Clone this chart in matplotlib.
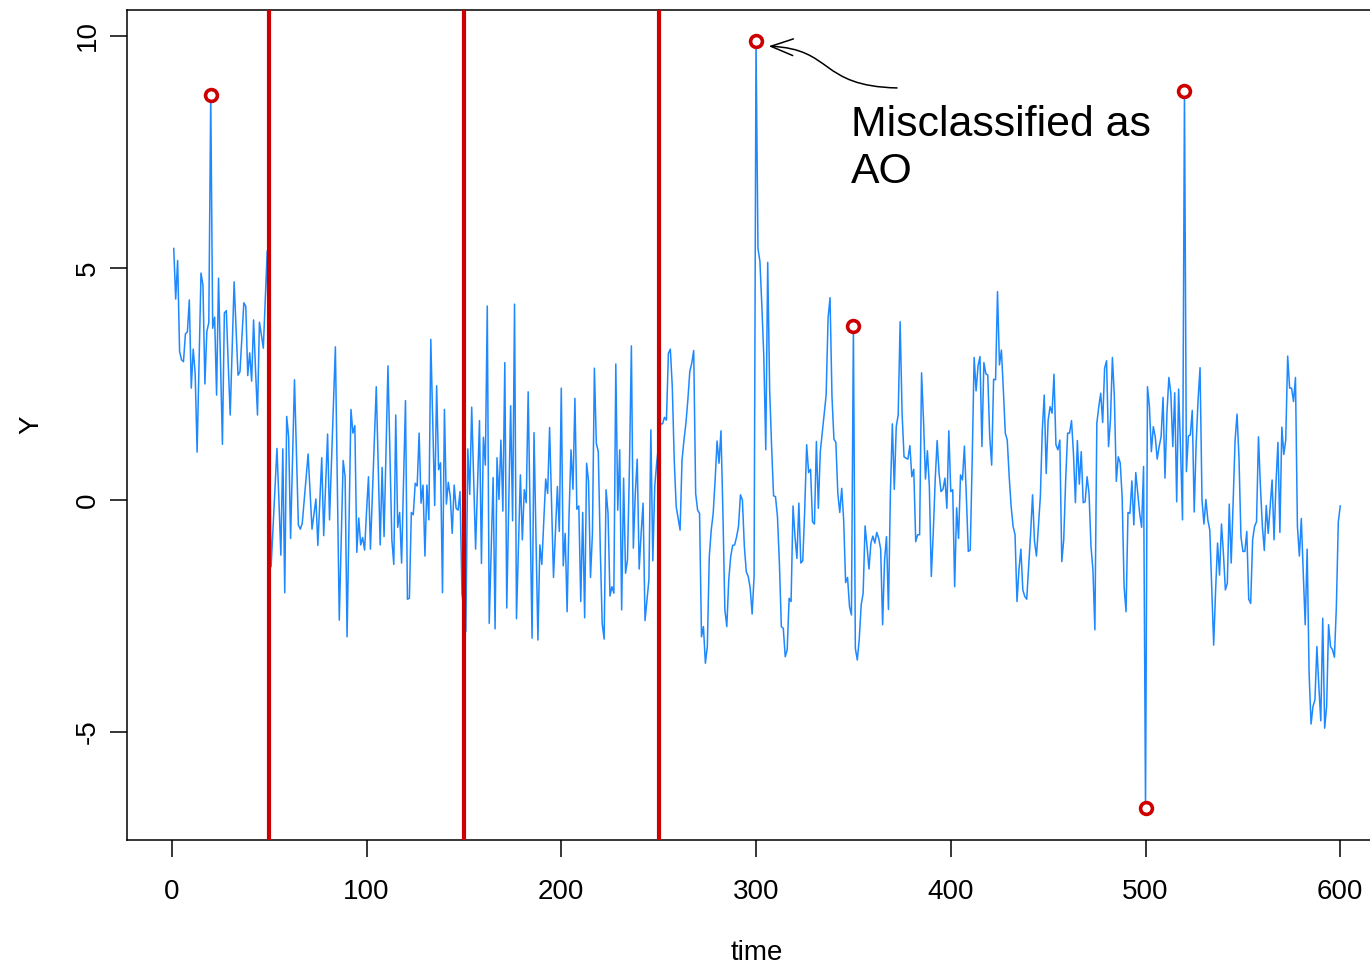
import numpy as np
import matplotlib
matplotlib.use("Agg")
import matplotlib.pyplot as plt
from matplotlib.path import Path
from matplotlib.patches import FancyArrowPatch

plt.rcParams['font.family'] = ['Liberation Sans', 'DejaVu Sans']

# series values, t = 1..600
y_1_50 = [5.42, 4.33, 5.16, 3.2, 3.02, 2.98, 3.58, 3.62, 4.31, 2.41,
          3.25, 2.73, 1.03, 3.0, 4.89, 4.63, 2.5, 3.63, 3.82, 8.73,
          3.7, 3.94, 2.26, 4.78, 3.0, 1.2, 4.03, 4.08, 2.9, 1.83,
          3.3, 4.7, 3.7, 2.69, 2.76, 3.5, 4.25, 4.17, 2.68, 3.17,
          2.56, 3.88, 2.8, 1.83, 3.83, 3.56, 3.27, 4.3, 5.37, 2.0]
y_51_150 = [-1.44, -0.6, 0.25, 1.11, 0.0, -1.19, 1.1, -2.0, 1.8, 1.36,
            -0.83, 0.9, 2.59, 1.0, -0.54, -0.63, -0.5, 0.0, 0.5, 0.99,
            0.2, -0.63, -0.3, 0.02, -0.98, -0.03, 0.91, -0.77, 0.3, 1.42,
            -0.43, 0.81, 2.06, 3.3, 0.36, -2.59, -0.87, 0.85, 0.5, -2.95,
            -0.5, 1.95, 1.44, 1.6, -1.13, -0.39, -0.97, -0.81, -1.08, -0.25,
            0.5, -1.06, 0.1, 1.3, 2.44, 0.7, -0.97, 0.7, -0.79, 1.0,
            2.89, 1.0, -0.86, -1.39, 1.83, -0.59, -0.27, -1.36, 0.4, 2.14,
            -2.14, -2.12, -0.27, -0.32, 0.36, 0.3, 1.44, -0.07, 0.32, -1.21,
            0.32, -0.43, 3.46, 1.65, -0.12, 2.46, 0.65, 0.8, -2.0, 1.95,
            -0.09, 0.38, 0.07, -0.72, 0.32, -0.18, -0.22, 0.18, -2.01, -2.4]
y_151_250 = [-2.84, 1.1, 0.12, 2.0, 0.5, -1.06, 0.3, 1.71, -1.37, 1.35,
             0.75, 4.18, -2.66, -1.1, 0.48, -2.78, 0.91, 0.01, 1.29, -0.24,
             2.96, -2.33, -0.15, 2.03, -0.45, 4.22, -2.56, -1.0, 0.54, -0.86,
             0.22, -0.06, 2.33, -0.3, -2.98, 1.45, -0.8, -3.02, -0.97, -1.39,
             -0.47, 0.45, 0.14, 1.56, -0.06, -1.67, -0.7, 0.29, -0.68, 2.41,
             -1.42, -0.72, -2.41, -0.3, 1.08, 0.23, 2.19, -0.2, -0.13, -2.19,
             -0.27, -2.54, 0.79, 0.4, -1.67, -0.72, 2.84, 1.22, 1.04, -1.0,
             -2.66, -3.0, 0.22, -0.29, -2.07, -1.87, -2.01, 2.93, -0.22, 1.08,
             -2.37, 0.47, -1.58, -1.29, 0.72, 3.32, -1.04, 0.14, 0.88, -1.49,
             -0.72, -0.07, -2.6, -2.16, -1.72, 1.51, -1.31, 0.3, 0.8, 1.2]
y_251_300 = [1.64, 1.64, 1.78, 1.72, 3.16, 3.25, 2.44, 0.86, -0.14, -0.39,
             -0.65, 0.86, 1.29, 1.65, 2.16, 2.77, 2.95, 3.22, 0.14, -0.22,
             -0.29, -2.95, -2.73, -3.52, -3.16, -1.22, -0.65, -0.29, 0.43, 1.27,
             0.79, 1.49, -0.29, -2.37, -2.73, -1.72, -1.22, -0.98, -0.97, -0.8,
             -0.57, 0.11, 0.0, -1.0, -1.55, -1.65, -1.9, -2.46, -1.65, 9.9]
y_301_350 = [5.42, 5.14, 4.17, 3.09, 1.08, 5.12, 2.37, 1.15, 0.09, 0.07,
             -0.36, -1.36, -2.73, -2.77, -3.38, -3.23, -2.12, -2.19, -0.13, -0.79,
             -1.26, -0.07, -1.36, -1.31, -0.22, 1.19, 0.59, 0.66, -0.47, -0.52,
             1.26, -0.18, 1.04, 1.44, 1.83, 2.26, 3.92, 4.36, 2.23, 1.31,
             1.24, 0.14, -0.27, 0.25, -0.43, -1.78, -1.67, -2.3, -2.48, 3.75]
y_351_400 = [-3.2, -3.45, -3.0, -2.26, -2.01, -0.56, -1.0, -1.49, -0.93, -0.78,
             -0.93, -0.7, -0.83, -1.06, -2.69, -1.3, -0.79, -2.36, 0.14, 1.64,
             0.23, 1.58, 1.83, 3.84, 1.87, 0.93, 0.9, 0.88, 1.17, 0.5,
             0.66, -0.9, -0.75, -0.75, 2.74, 1.72, 0.45, 1.06, 0.29, -1.65,
             -0.72, 0.43, 1.28, 0.57, 0.18, 0.23, 0.47, -0.18, 1.49, 0.18]
y_401_450 = [0.22, -1.87, -0.17, -0.83, 0.54, 0.43, 1.16, 0.07, -1.11, -1.08,
             0.86, 3.07, 2.35, 2.89, 3.09, 1.15, 2.96, 2.72, 2.69, 1.36,
             0.75, 2.6, 2.59, 4.49, 2.91, 3.23, 2.37, 1.44, 1.29, 0.5,
             -0.14, -0.57, -0.75, -2.19, -1.51, -1.06, -1.94, -2.08, -2.14, -1.44,
             -0.72, 0.11, -0.9, -1.21, -0.57, 0.07, 1.51, 2.26, 0.57, 1.72]
y_451_500 = [2.01, 1.87, 2.71, 1.19, 1.08, 1.29, -1.33, -0.86, 0.43, 1.44,
             1.44, 1.71, 1.0, -0.06, 1.28, 0.34, 1.04, -0.06, -0.04, 0.5,
             0.14, -1.0, -1.51, -2.8, 1.65, 2.01, 2.3, 1.67, 2.84, 3.0,
             1.15, 1.72, 3.07, 2.23, 0.4, 0.93, 0.8, 0.07, -1.87, -2.41,
             -0.27, -0.29, 0.41, -0.54, 0.59, 0.14, -0.29, -0.59, 0.72, -6.65]
y_501_600 = [2.44, 2.01, 1.04, 1.58, 1.36, 0.88, 1.15, 1.36, 2.21, 0.47,
             1.87, 2.64, 2.3, 1.15, 2.31, -0.04, 2.39, 1.08, -0.43, 8.82,
             0.61, 1.38, 1.4, 1.93, -0.26, 1.22, 2.16, 2.85, 0.0, -0.52,
             0.01, -0.43, -0.65, -1.87, -3.13, -1.94, -0.93, -1.62, -0.52, -1.15,
             -1.94, -1.8, -0.09, -1.36, 0.0, 1.29, 1.85, 0.9, -0.79, -1.11,
             -1.11, -0.68, -2.14, -2.23, -0.86, -0.57, -0.47, 1.36, 0.29, -0.57,
             -1.09, -0.12, -0.72, -0.14, 0.43, -0.86, 0.36, 1.24, -0.7, 1.57,
             0.98, 1.29, 3.1, 2.41, 2.41, 2.12, 2.64, -0.57, -1.21, -0.4,
             -1.58, -2.69, -1.06, -3.74, -4.83, -4.45, -4.31, -3.16, -4.02, -4.76,
             -2.55, -4.92, -4.45, -2.69, -3.16, -3.23, -3.39, -2.3, -0.47, -0.13]

breaks = [50, 150, 250]
outliers = [20, 300, 350, 500, 520]
note = "Misclassified as\nAO"

y = np.array(y_1_50 + y_51_150 + y_151_250 + y_251_300 + y_301_350
             + y_351_400 + y_401_450 + y_451_500 + y_501_600)
t = np.arange(1, len(y) + 1)

fig = plt.figure(figsize=(13.7, 9.65), dpi=100)
ax = fig.add_axes([127 / 1370, 125 / 965, 1260 / 1370, 830 / 965])

ax.plot(t, y, color='#1E88FF', lw=1.1, zorder=2)
for b in breaks:
    ax.axvline(b, color='#CC0000', lw=3, zorder=3)
idx = np.array(outliers) - 1
ax.plot(t[idx], y[idx], 'o', ms=8.5, mfc='white', mec='#CC0000', mew=2.6, zorder=4)

ax.set_xlim(-23, 624)
ax.set_ylim(-7.33, 10.56)
ax.set_xticks(range(0, 601, 100))
ax.set_yticks([-5, 0, 5, 10])
ax.set_yticklabels(['-5', '0', '5', '10'], rotation=90, va='center')
ax.tick_params(axis='both', labelsize=20, length=12, width=1.1, direction='out')
ax.tick_params(axis='x', pad=16)
ax.tick_params(axis='y', pad=7)
for s in ax.spines.values():
    s.set_linewidth(1.1)
ax.set_xlabel('time', fontsize=20, labelpad=25)
ax.set_ylabel('Y', fontsize=20, labelpad=22)

# curved pointer to the spike at t = 300
tail = (372.4, 8.88)
tip = (306.5, 9.78)
arc = Path([tail, (332.0, 8.92), (340.0, 9.72), tip],
           [Path.MOVETO, Path.CURVE4, Path.CURVE4, Path.CURVE4])
arrow = FancyArrowPatch(path=arc, arrowstyle='->,head_length=0.8,head_width=0.3',
                        mutation_scale=20, lw=1.1, color='black',
                        transform=ax.transData, zorder=5)
ax.add_patch(arrow)
ax.text(348.7, 8.52, note, fontsize=30.8, ha='left', va='top', linespacing=1.25)

fig.savefig('out.png', dpi=100)
